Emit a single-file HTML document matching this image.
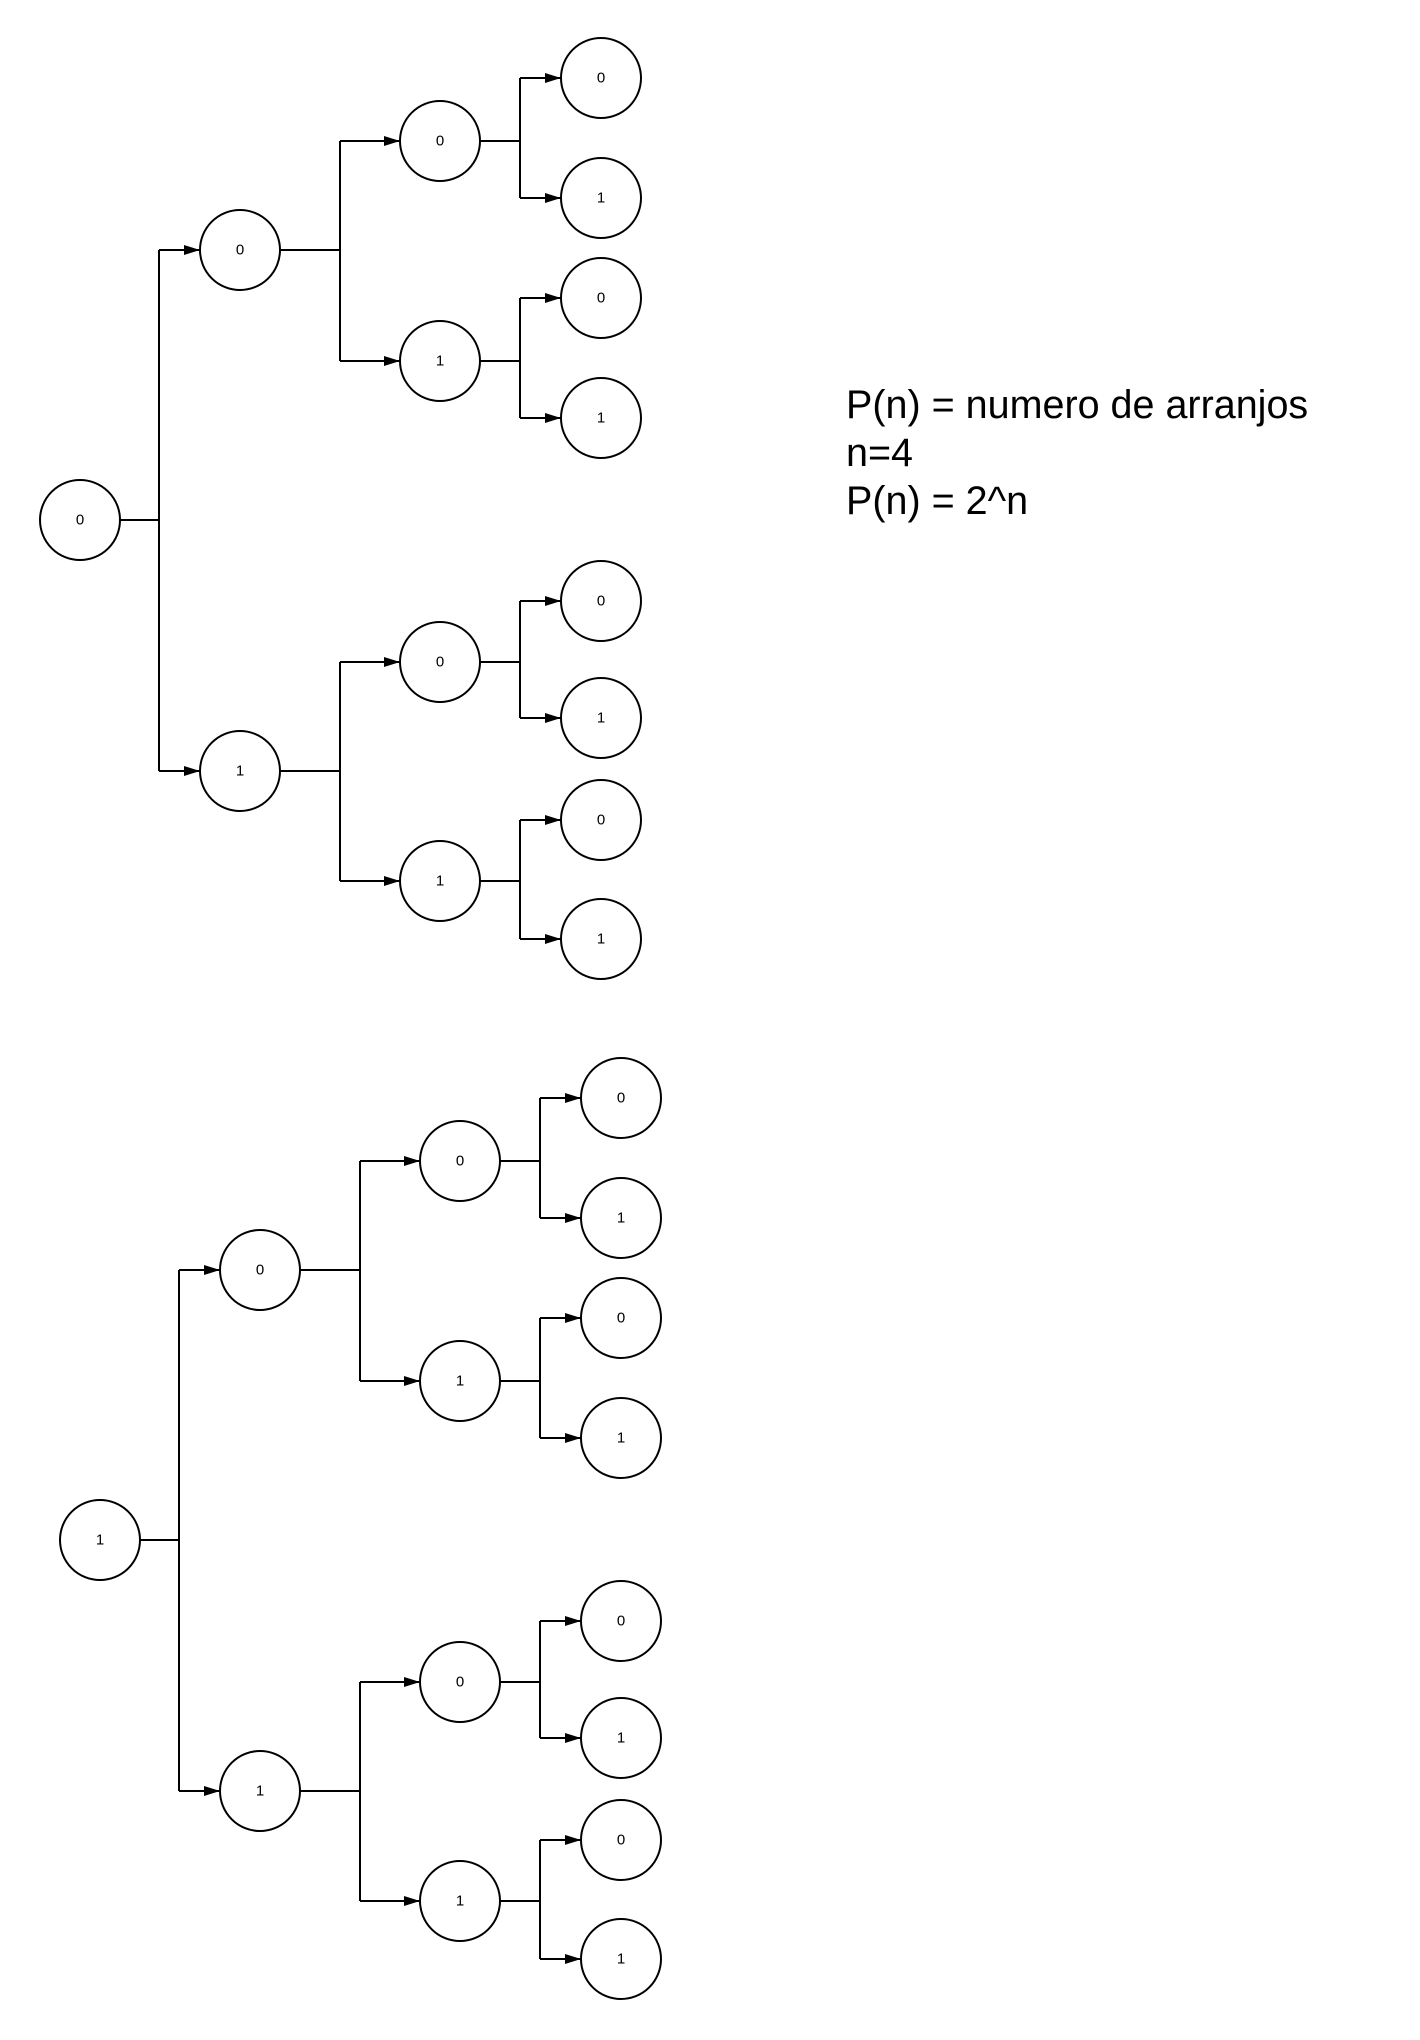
<!DOCTYPE html>
<html><head><meta charset="utf-8"><style>
html,body{margin:0;padding:0;background:#fff;width:1420px;height:2040px;overflow:hidden}
svg{position:absolute;left:0;top:0}
.t{font-family:"Liberation Sans",sans-serif;font-size:39.5px;fill:#000}
.n{font-family:"Liberation Sans",sans-serif;font-size:15px;fill:#000;text-anchor:middle;dominant-baseline:central}
</style></head><body>
<svg width="1420" height="2040" viewBox="0 0 1420 2040">
<defs>
<marker id="a" viewBox="0 0 16 10" refX="16" refY="5" markerWidth="16" markerHeight="10" markerUnits="userSpaceOnUse" orient="auto"><path d="M0,0 L16,5 L0,10 z" fill="#000"/></marker>
<g id="tree">
<g fill="none" stroke="#000" stroke-width="2">
<path d="M120,520 H159 M159,250 V771"/>
<path d="M159,250 H200" marker-end="url(#a)"/><path d="M159,771 H200" marker-end="url(#a)"/>
<path d="M280,250 H340 M340,141 V361 M280,771 H340 M340,662 V881"/>
<path d="M340,141 H400" marker-end="url(#a)"/><path d="M340,361 H400" marker-end="url(#a)"/>
<path d="M340,662 H400" marker-end="url(#a)"/><path d="M340,881 H400" marker-end="url(#a)"/>
<path d="M480,141 H520 M520,78 V198 M480,361 H520 M520,298 V418 M480,662 H520 M520,601 V718 M480,881 H520 M520,820 V939"/>
<path d="M520,78 H561" marker-end="url(#a)"/><path d="M520,198 H561" marker-end="url(#a)"/>
<path d="M520,298 H561" marker-end="url(#a)"/><path d="M520,418 H561" marker-end="url(#a)"/>
<path d="M520,601 H561" marker-end="url(#a)"/><path d="M520,718 H561" marker-end="url(#a)"/>
<path d="M520,820 H561" marker-end="url(#a)"/><path d="M520,939 H561" marker-end="url(#a)"/>
<circle cx="80" cy="520" r="40"/>
<circle cx="240" cy="250" r="40"/><circle cx="240" cy="771" r="40"/>
<circle cx="440" cy="141" r="40"/><circle cx="440" cy="361" r="40"/><circle cx="440" cy="662" r="40"/><circle cx="440" cy="881" r="40"/>
<circle cx="601" cy="78" r="40"/><circle cx="601" cy="198" r="40"/><circle cx="601" cy="298" r="40"/><circle cx="601" cy="418" r="40"/>
<circle cx="601" cy="601" r="40"/><circle cx="601" cy="718" r="40"/><circle cx="601" cy="820" r="40"/><circle cx="601" cy="939" r="40"/>
</g>
<text class="n" x="240" y="250">0</text><text class="n" x="240" y="771">1</text>
<text class="n" x="440" y="141">0</text><text class="n" x="440" y="361">1</text><text class="n" x="440" y="662">0</text><text class="n" x="440" y="881">1</text>
<text class="n" x="601" y="78">0</text><text class="n" x="601" y="198">1</text><text class="n" x="601" y="298">0</text><text class="n" x="601" y="418">1</text>
<text class="n" x="601" y="601">0</text><text class="n" x="601" y="718">1</text><text class="n" x="601" y="820">0</text><text class="n" x="601" y="939">1</text>
</g>
</defs>
<use href="#tree"/>
<text class="n" x="80" y="520">0</text>
<g transform="translate(20,1020)"><use href="#tree"/><text class="n" x="80" y="520">1</text></g>
<text class="t" x="846" y="418">P(n) = numero de arranjos</text>
<text class="t" x="846" y="466">n=4</text>
<text class="t" x="846" y="514">P(n) = 2^n</text>
</svg>
</body></html>
